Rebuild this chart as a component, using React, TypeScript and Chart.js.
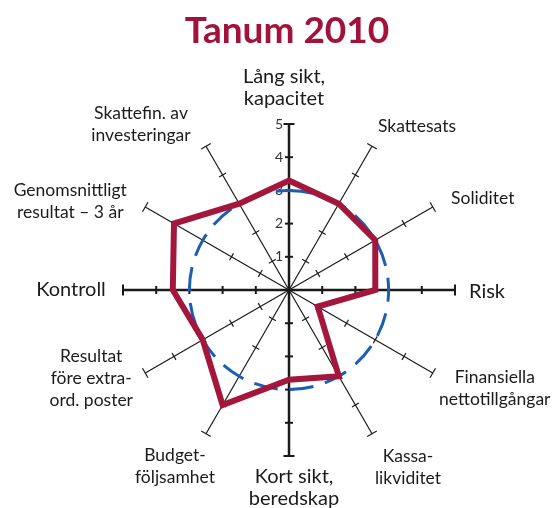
import React, { useEffect, useRef } from "react";
import { Chart, registerables } from "chart.js";

Chart.register(...registerables);

const TITLE = "Tanum 2010";
const axisLabels: string[][] = [
  ["Lång sikt,", "kapacitet"],
  ["Skattesats"],
  ["Soliditet"],
  ["Risk"],
  ["Finansiella", "nettotillgångar"],
  ["Kassa-", "likviditet"],
  ["Kort sikt,", "beredskap"],
  ["Budget-", "följsamhet"],
  ["Resultat", "före extra-", "ord. poster"],
  ["Kontroll"],
  ["Genomsnittligt", "resultat – 3 år"],
  ["Skattefin. av", "investeringar"],
];
const tanumValues = [3.3, 3.0, 3.0, 2.6, 1.0, 3.0, 2.7, 4.0, 3.0, 3.5, 4.0, 3.0];
const averageValues = [3, 3, 3, 3, 3, 3, 3, 3, 3, 3, 3, 3];
const tickValues = [1, 2, 3, 4, 5];

// label block centre offsets from each axis end (layout only)
const labelOffsets: [number, number][] = [
  [-5, -36], [45, -20], [50, -9], [32, 2], [62, 15], [36, 34],
  [5, 32], [-31, 33], [-54, 5], [-52, 0], [-75, -6], [-65, -22],
];
const bigLabel = [true, false, false, true, false, false, true, false, false, true, false, false];

const FONT = "Lato, 'Open Sans', sans-serif";

const decorPlugin = {
  id: "decor",
  beforeDatasetsDraw(chart: any) {
    const scale = chart.scales.r;
    const ctx = chart.ctx;
    const n = axisLabels.length;
    ctx.save();
    // ticks and end caps
    for (let i = 0; i < n; i++) {
      const a = scale.getIndexAngle(i) - Math.PI / 2;
      const nx = -Math.sin(a);
      const ny = Math.cos(a);
      const main = i % 3 === 0;
      ctx.strokeStyle = "#1a1a1a";
      ctx.lineWidth = main ? 2 : 1.2;
      for (const v of tickValues) {
        const p = scale.getPointPositionForValue(i, v);
        const L = v === 5 ? 5.5 : 4;
        ctx.beginPath();
        ctx.moveTo(p.x - nx * L, p.y - ny * L);
        ctx.lineTo(p.x + nx * L, p.y + ny * L);
        ctx.stroke();
      }
    }
    // tick numbers on the top axis
    ctx.fillStyle = "#333";
    ctx.font = `14px ${FONT}`;
    ctx.textAlign = "right";
    ctx.textBaseline = "middle";
    for (const v of tickValues) {
      const p = scale.getPointPositionForValue(0, v);
      ctx.fillText(String(v), p.x - 6, p.y);
    }
    // axis labels
    ctx.fillStyle = "#1c1a1b";
    ctx.textAlign = "center";
    for (let i = 0; i < n; i++) {
      const p = scale.getPointPositionForValue(i, 5);
      const [dx, dy] = labelOffsets[i];
      const lines = axisLabels[i];
      const size = bigLabel[i] ? 20 : 17.5;
      const lh = 22;
      ctx.font = `${size}px ${FONT}`;
      const cx = p.x + dx;
      const cy = p.y + dy;
      const y0 = cy - ((lines.length - 1) * lh) / 2;
      lines.forEach((t, k) => ctx.fillText(t, cx, y0 + k * lh));
    }
    // title
    ctx.fillStyle = "#a3123a";
    ctx.font = `bold 37px ${FONT}`;
    ctx.textAlign = "center";
    ctx.textBaseline = "alphabetic";
    ctx.fillText(TITLE, 287, 43);
    ctx.restore();
  },
};

export default function App() {
  const ref = useRef<HTMLCanvasElement>(null);
  useEffect(() => {
    if (!ref.current) return;
    const chart = new Chart(ref.current, {
      type: "radar",
      data: {
        labels: axisLabels.map((l) => l.join(" ")),
        datasets: [
          {
            label: "Tanum",
            data: tanumValues,
            borderColor: "#a3173d",
            borderWidth: 6,
            borderJoinStyle: "miter",
            fill: false,
            pointRadius: 0,
            tension: 0,
          },
          {
            label: "Genomsnitt",
            data: averageValues,
            borderColor: "#1a5fb4",
            borderWidth: 3,
            borderDash: [24, 12],
            fill: false,
            pointRadius: 0,
            tension: 0.35,
          },
        ],
      },
      options: {
        responsive: false,
        animation: false,
        layout: { padding: { left: 123, right: 100, top: 124, bottom: 52 } },
        plugins: { legend: { display: false }, title: { display: false }, tooltip: { enabled: false } },
        scales: {
          r: {
            min: 0,
            max: 5,
            ticks: { display: false, stepSize: 1 },
            grid: { display: false },
            angleLines: {
              display: true,
              color: "#1a1a1a",
              lineWidth: (c: any) => (c.index % 3 === 0 ? 2.5 : 1.2),
            },
            pointLabels: { display: false },
          },
        },
      },
      plugins: [decorPlugin],
    });
    return () => chart.destroy();
  }, []);
  return (
    <div style={{ position: "fixed", left: 0, top: 0, width: 555, height: 508, background: "#fff" }}>
      <canvas ref={ref} width={555} height={508} />
    </div>
  );
}
